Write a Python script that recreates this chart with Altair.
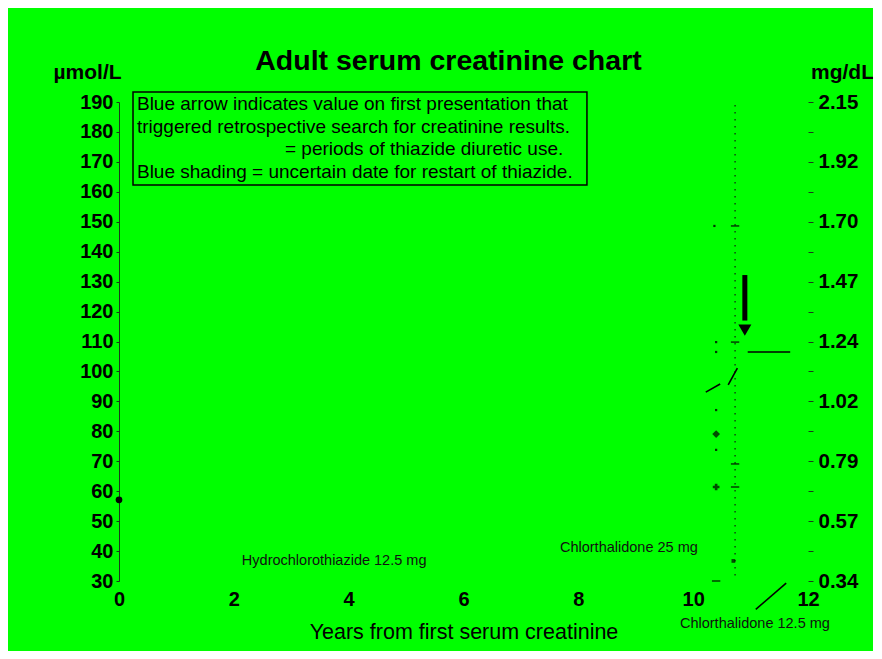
import altair as alt
import pandas as pd

GREEN = "#00FF00"
FONT = "Liberation Sans"
INK = "#000000"

# ---- axes ----
y_ticks = list(range(30, 200, 10))
x_ticks = [0, 2, 4, 6, 8, 10, 12]
mg_values = [190, 170, 150, 130, 110, 90, 70, 50, 30]
mg_labels = ["2.15", "1.92", "1.70", "1.47", "1.24", "1.02", "0.79", "0.57", "0.34"]

# ---- data (years, µmol/L) ----
grid_x = [10.73, 10.73]
grid_y = [189, 30]

dots_x = [10.40, 10.40, 10.40, 10.40, 10.37]
dots_y = [109.8, 106.5, 87.1, 73.8, 148.6]

dash_x = [10.73, 10.73, 10.73, 10.73, 10.40]
dash_y = [148.6, 109.8, 69.1, 61.4, 30.0]

diamond_x = [10.40]
diamond_y = [79.1]

cross_x = [10.40]
cross_y = [61.4]

small_x = [10.70]
small_y = [36.7]

first_x = [0.0]
first_y = [57.1]

seg_id = ["result", "result", "diag", "diag", "slash", "slash", "curve", "curve"]
seg_x = [10.95, 11.69, 11.09, 11.62, 10.61, 10.77, 10.22, 10.47]
seg_y = [106.5, 106.5, 20.5, 29.3, 95.5, 101.1, 93.1, 95.8]

arrow_x = [10.90]
arrow_top = [132.2]
arrow_end = [117.0]
arrow_head = [113.8]

# legend box and its text
box_x, box_x2, box_y, box_y2 = [0.244], [8.15], [193.3], [162.3]
legend_lines = [
    "Blue arrow indicates value on first presentation that",
    "triggered retrospective search for creatinine results.",
    "= periods of thiazide diuretic use.",
    "Blue shading  = uncertain date for restart of thiazide.",
]
legend_x = [0.313, 0.313, 2.89, 0.313]
legend_y = [189.2, 181.6, 174.2, 166.7]

drug_labels = ["Hydrochlorothiazide 12.5 mg", "Chlorthalidone 25 mg", "Chlorthalidone 12.5 mg"]
drug_x = [2.14, 7.68, 9.77]
drug_y = [36.7, 41.0, 15.6]

# ---- scales / encodings ----
XS = alt.Scale(domain=[0, 12], nice=False, zero=False)
YS = alt.Scale(domain=[30, 190], nice=False, zero=False)

x_axis = alt.Axis(values=x_ticks, labelFontSize=20, labelFontWeight="bold", labelColor=INK,
                  labelFont=FONT, domain=False, ticks=False, grid=False, labelPadding=8,
                  labelFlush=False,
                  title="Years from first serum creatinine", titleFont=FONT, titleFontSize=21.5,
                  titleFontWeight="normal", titleColor=INK, titlePadding=12)
y_axis = alt.Axis(values=y_ticks, labelFontSize=20, labelFontWeight="bold", labelColor=INK,
                  labelFont=FONT, domain=True, domainColor="#1a3a1a", domainWidth=1,
                  ticks=True, tickSize=3, tickColor="#1a3a1a", grid=False, labelPadding=3,
                  labelFlush=False,
                  title="µmol/L", titleFont=FONT, titleFontSize=21, titleFontWeight="bold",
                  titleColor=INK, titleAngle=0, titleAlign="center", titleBaseline="middle",
                  titleX=-32, titleY=-30)


def X(field="x"):
    return alt.X(f"{field}:Q", scale=XS, axis=x_axis)


def Y(field="y"):
    return alt.Y(f"{field}:Q", scale=YS, axis=y_axis)


grid = alt.Chart(pd.DataFrame({"x": grid_x, "y": grid_y})).mark_line(
    color="#103010", strokeWidth=1.3, strokeDash=[1.5, 5.5]).encode(x=X(), y=Y())

dots = alt.Chart(pd.DataFrame({"x": dots_x, "y": dots_y})).mark_point(
    shape="square", filled=True, color=INK, size=5, opacity=0.8).encode(x=X(), y=Y())

dashes = alt.Chart(pd.DataFrame({"x": dash_x, "y": dash_y})).mark_point(
    shape="stroke", filled=False, color=INK, size=70, strokeWidth=1.6).encode(x=X(), y=Y())

diamond = alt.Chart(pd.DataFrame({"x": diamond_x, "y": diamond_y})).mark_point(
    shape="diamond", filled=True, color=INK, size=60).encode(x=X(), y=Y())

cross = alt.Chart(pd.DataFrame({"x": cross_x, "y": cross_y})).mark_point(
    shape="cross", filled=True, color=INK, size=45).encode(x=X(), y=Y())

small = alt.Chart(pd.DataFrame({"x": small_x, "y": small_y})).mark_point(
    shape="square", filled=True, color=INK, size=14).encode(x=X(), y=Y())

first = alt.Chart(pd.DataFrame({"x": first_x, "y": first_y})).mark_point(
    shape="circle", filled=True, color=INK, size=45, opacity=1).encode(x=X(), y=Y())

segs = alt.Chart(pd.DataFrame({"id": seg_id, "x": seg_x, "y": seg_y})).mark_line(
    color=INK, strokeWidth=1.6).encode(x=X(), y=Y(), detail="id:N")

shaft = alt.Chart(pd.DataFrame({"x": arrow_x, "y": arrow_top, "y2": arrow_end})).mark_rule(
    color=INK, strokeWidth=5).encode(x=X(), y=Y(), y2="y2:Q")

head = alt.Chart(pd.DataFrame({"x": arrow_x, "y": arrow_head})).mark_point(
    shape="triangle-down", filled=True, color=INK, size=170, opacity=1).encode(x=X(), y=Y())

box = alt.Chart(pd.DataFrame({"x": box_x, "x2": box_x2, "y": box_y, "y2": box_y2})).mark_rect(
    fill=GREEN, fillOpacity=0, stroke=INK, strokeWidth=1.5).encode(
    x=X(), x2="x2:Q", y=Y(), y2="y2:Q")

legend_text = alt.Chart(pd.DataFrame({"t": legend_lines, "x": legend_x, "y": legend_y})).mark_text(
    align="left", baseline="middle", font=FONT, fontSize=19, color=INK).encode(
    x=X(), y=Y(), text="t:N")

drug_text = alt.Chart(pd.DataFrame({"t": drug_labels, "x": drug_x, "y": drug_y})).mark_text(
    align="left", baseline="middle", font=FONT, fontSize=14.5, color="#111111").encode(
    x=X(), y=Y(), text="t:N")

left_group = alt.layer(box, legend_text, drug_text, grid, segs, dots, dashes, diamond, cross,
                       small, first, shaft, head)

label_expr = " : ".join(f"datum.value == {v} ? '{l}'" for v, l in zip(mg_values, mg_labels)) + " : ''"
right_axis = alt.Axis(orient="right", values=y_ticks, labelExpr=label_expr, labelFontSize=20.5,
                      labelFontWeight="bold", labelColor=INK, labelFont=FONT, domain=False,
                      ticks=True, tickSize=5, tickColor="#1a3a1a", grid=False, labelPadding=5,
                      labelFlush=False,
                      title="mg/dL", titleFont=FONT, titleFontSize=21, titleFontWeight="bold",
                      titleColor=INK, titleAngle=0, titleAlign="center", titleBaseline="middle",
                      titleX=34, titleY=-30)
right_layer = alt.Chart(pd.DataFrame({"x": [0.0] * len(mg_values), "y": mg_values})).mark_point(
    opacity=0).encode(x=alt.X("x:Q", scale=XS, axis=x_axis),
                      y=alt.Y("y:Q", scale=YS, axis=right_axis))

chart = alt.layer(left_group, right_layer).resolve_scale(y="independent").properties(
    width=689, height=479,
    autosize=alt.AutoSizeParams(type="none"),
    padding={"left": 111, "top": 94, "right": 65, "bottom": 70},
    background=GREEN,
    title=alt.TitleParams("Adult serum creatinine chart", font=FONT, fontSize=28.5,
                          fontWeight="bold", color=INK, anchor="middle", frame="group",
                          dx=-15, offset=-14),
).configure_view(stroke="transparent")

chart.save("out.html", embed_options={"renderer": "svg", "actions": False})
